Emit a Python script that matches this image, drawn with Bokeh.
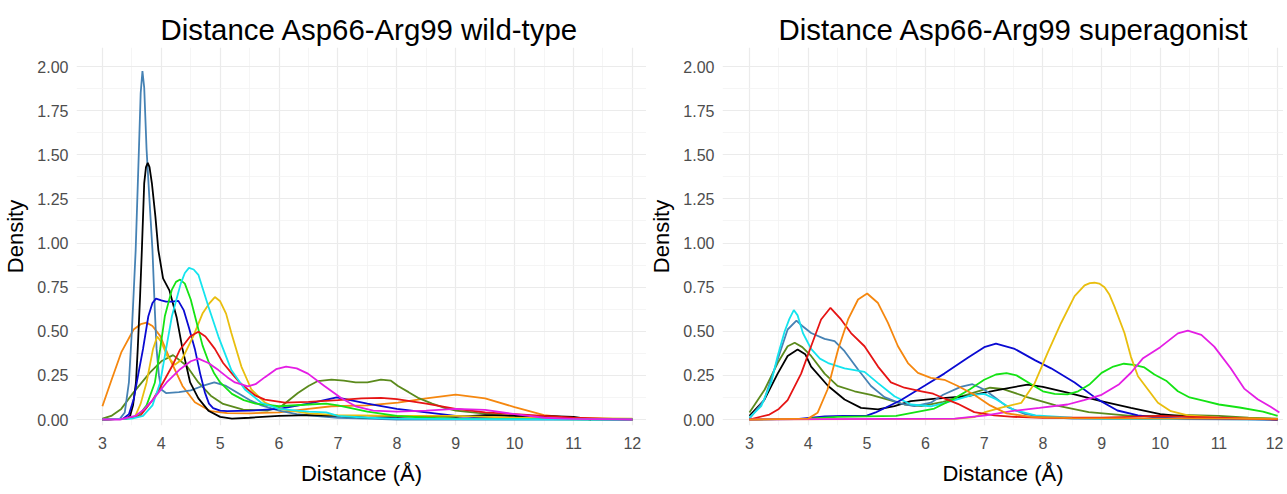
from bokeh.plotting import figure
from bokeh.layouts import row, column
from bokeh.models import Range1d, FixedTicker, PrintfTickFormatter, Spacer
from bokeh.embed import file_html
from bokeh.resources import INLINE

# ---------------- data: wild-type ----------------
wt_steelblue_x = [3.0, 3.3, 3.38, 3.45, 3.5, 3.565, 3.62, 3.65, 3.68, 3.71, 3.75, 3.8, 3.85, 3.89, 3.92, 3.96, 4.0, 4.08, 4.3, 4.5, 4.7, 4.9, 5.1, 5.3, 5.5, 5.7, 6.0, 6.3, 6.6, 7.0, 7.5, 8.0, 12.0]
wt_steelblue_y = [0.0, 0.005, 0.04, 0.21, 0.5, 0.96, 1.53, 1.85, 1.975, 1.88, 1.53, 1.24, 0.96, 0.62, 0.40, 0.25, 0.17, 0.15, 0.155, 0.165, 0.19, 0.21, 0.19, 0.15, 0.11, 0.08, 0.05, 0.03, 0.02, 0.01, 0.005, 0.0, 0.0]

wt_black_x = [3.0, 3.4, 3.47, 3.52, 3.57, 3.6, 3.64, 3.67, 3.71, 3.74, 3.77, 3.8, 3.84, 3.9, 3.95, 4.03, 4.14, 4.26, 4.36, 4.49, 4.63, 4.8, 5.0, 5.2, 5.5, 6.0, 6.5, 7.0, 7.5, 8.0, 8.5, 9.0, 9.5, 10.0, 10.5, 11.0, 11.3]
wt_black_y = [0.0, 0.005, 0.02, 0.08, 0.21, 0.40, 0.7, 0.96, 1.34, 1.43, 1.454, 1.43, 1.34, 1.15, 0.96, 0.80, 0.73, 0.58, 0.40, 0.21, 0.12, 0.05, 0.015, 0.005, 0.01, 0.02, 0.025, 0.02, 0.01, 0.015, 0.02, 0.015, 0.025, 0.02, 0.02, 0.015, 0.0]

wt_blue_x = [3.0, 3.35, 3.45, 3.53, 3.6, 3.69, 3.78, 3.85, 3.91, 4.0, 4.08, 4.18, 4.29, 4.38, 4.47, 4.57, 4.66, 4.74, 4.81, 4.88, 5.0, 5.12, 5.5, 6.0, 6.5, 6.98, 7.5, 8.0, 8.5, 9.0, 9.5, 10.0, 12.0]
wt_blue_y = [0.0, 0.005, 0.03, 0.113, 0.24, 0.40, 0.585, 0.66, 0.685, 0.675, 0.668, 0.668, 0.672, 0.62, 0.52, 0.40, 0.26, 0.154, 0.09, 0.064, 0.05, 0.047, 0.05, 0.06, 0.09, 0.126, 0.09, 0.06, 0.04, 0.02, 0.01, 0.005, 0.0]

wt_green_x = [3.0, 3.4, 3.61, 3.75, 3.89, 3.98, 4.06, 4.18, 4.25, 4.32, 4.4, 4.5, 4.6, 4.7, 4.8, 4.9, 5.0, 5.2, 5.4, 5.6, 6.0, 6.5, 6.8, 7.0, 7.5, 8.0, 8.5, 9.0, 12.0]
wt_green_y = [0.0, 0.005, 0.02, 0.08, 0.208, 0.397, 0.585, 0.736, 0.78, 0.793, 0.77, 0.68, 0.55, 0.42, 0.33, 0.26, 0.21, 0.145, 0.11, 0.09, 0.075, 0.085, 0.09, 0.08, 0.045, 0.02, 0.01, 0.005, 0.0]

wt_cyan_x = [3.0, 3.5, 3.69, 3.85, 3.98, 4.08, 4.18, 4.33, 4.4, 4.47, 4.55, 4.63, 4.8, 4.97, 5.19, 5.42, 5.7, 6.0, 6.5, 6.8, 7.0, 7.5, 8.0, 9.0, 12.0]
wt_cyan_y = [0.0, 0.005, 0.02, 0.08, 0.208, 0.397, 0.585, 0.77, 0.83, 0.859, 0.85, 0.82, 0.64, 0.47, 0.28, 0.17, 0.095, 0.06, 0.045, 0.04, 0.02, 0.01, 0.005, 0.002, 0.0]

wt_gold_x = [3.0, 3.45, 3.56, 3.65, 3.75, 3.86, 3.93, 4.0, 4.1, 4.23, 4.35, 4.54, 4.7, 4.82, 4.91, 5.0, 5.1, 5.19, 5.36, 5.53, 5.76, 6.0, 6.5, 7.0, 8.0, 9.0, 10.0, 12.0]
wt_gold_y = [0.0, 0.005, 0.02, 0.09, 0.21, 0.40, 0.47, 0.44, 0.36, 0.31, 0.34, 0.47, 0.6, 0.66, 0.694, 0.67, 0.6, 0.49, 0.30, 0.17, 0.096, 0.06, 0.035, 0.025, 0.02, 0.02, 0.01, 0.005]

wt_red_x = [3.0, 3.4, 3.64, 3.86, 4.03, 4.18, 4.32, 4.49, 4.63, 4.75, 4.91, 5.05, 5.19, 5.33, 5.47, 5.6, 5.76, 6.1, 6.5, 7.0, 7.4, 7.73, 8.0, 8.5, 9.0, 9.5, 10.0, 10.5, 11.0, 11.5, 12.0]
wt_red_y = [0.0, 0.005, 0.02, 0.113, 0.21, 0.30, 0.397, 0.47, 0.497, 0.47, 0.40, 0.32, 0.264, 0.21, 0.17, 0.135, 0.113, 0.096, 0.10, 0.11, 0.12, 0.123, 0.115, 0.09, 0.06, 0.04, 0.03, 0.02, 0.01, 0.005, 0.0]

wt_orange_x = [3.0, 3.15, 3.32, 3.53, 3.65, 3.75, 3.85, 3.98, 4.15, 4.36, 4.57, 4.84, 5.12, 5.5, 6.0, 6.5, 6.89, 7.5, 8.02, 8.5, 9.0, 9.5, 10.0, 10.5, 11.0, 11.5, 12.0]
wt_orange_y = [0.075, 0.22, 0.38, 0.51, 0.54, 0.549, 0.53, 0.474, 0.34, 0.19, 0.098, 0.047, 0.036, 0.035, 0.04, 0.06, 0.075, 0.08, 0.096, 0.12, 0.141, 0.12, 0.07, 0.025, 0.008, 0.003, 0.0]

wt_magenta_x = [3.0, 3.3, 3.56, 3.7, 3.86, 4.09, 4.32, 4.5, 4.63, 4.8, 4.97, 5.12, 5.25, 5.47, 5.6, 5.76, 5.95, 6.12, 6.3, 6.49, 6.77, 7.06, 7.3, 7.6, 8.0, 8.5, 9.0, 9.5, 10.0, 10.5, 11.0, 12.0]
wt_magenta_y = [0.0, 0.0, 0.02, 0.055, 0.113, 0.21, 0.285, 0.33, 0.345, 0.32, 0.28, 0.24, 0.21, 0.188, 0.2, 0.24, 0.285, 0.30, 0.29, 0.26, 0.19, 0.12, 0.075, 0.05, 0.045, 0.05, 0.06, 0.055, 0.03, 0.01, 0.003, 0.0]

wt_olive_x = [3.0, 3.15, 3.32, 3.53, 3.81, 4.0, 4.2, 4.43, 4.63, 4.84, 5.05, 5.39, 5.8, 6.04, 6.32, 6.5, 6.66, 6.89, 7.1, 7.3, 7.5, 7.73, 7.9, 8.02, 8.2, 8.36, 8.6, 8.81, 9.0, 9.37, 10.0, 10.5, 11.0, 12.0]
wt_olive_y = [0.005, 0.02, 0.06, 0.154, 0.267, 0.33, 0.365, 0.305, 0.21, 0.135, 0.088, 0.056, 0.05, 0.075, 0.15, 0.19, 0.218, 0.226, 0.22, 0.21, 0.21, 0.226, 0.22, 0.19, 0.155, 0.123, 0.09, 0.066, 0.05, 0.038, 0.02, 0.01, 0.005, 0.0]

# ---------------- data: superagonist ----------------
sa_cyan_x = [3.0, 3.2, 3.37, 3.48, 3.6, 3.68, 3.755, 3.82, 3.91, 4.05, 4.2, 4.34, 4.62, 4.96, 5.19, 5.47, 5.75, 6.09, 6.35, 6.6, 6.8, 7.0, 7.2, 7.5, 7.87, 8.5, 9.0, 12.0]
sa_cyan_y = [0.01, 0.076, 0.21, 0.36, 0.5, 0.57, 0.62, 0.59, 0.49, 0.40, 0.345, 0.32, 0.29, 0.27, 0.206, 0.132, 0.085, 0.075, 0.095, 0.12, 0.14, 0.145, 0.115, 0.055, 0.023, 0.01, 0.005, 0.0]

sa_steelblue_x = [3.0, 3.25, 3.48, 3.65, 3.8, 3.9, 4.05, 4.28, 4.45, 4.62, 4.85, 5.07, 5.3, 5.58, 5.81, 6.09, 6.3, 6.6, 6.8, 7.0, 7.2, 7.4, 7.7, 8.0, 8.5, 12.0]
sa_steelblue_y = [0.005, 0.11, 0.34, 0.51, 0.56, 0.53, 0.49, 0.457, 0.444, 0.387, 0.283, 0.19, 0.127, 0.09, 0.076, 0.095, 0.14, 0.185, 0.2, 0.17, 0.12, 0.07, 0.03, 0.015, 0.005, 0.0]

sa_olive_x = [3.0, 3.26, 3.48, 3.65, 3.77, 3.9, 4.05, 4.28, 4.5, 4.79, 5.07, 5.36, 5.64, 5.93, 6.3, 6.7, 7.1, 7.31, 7.73, 8.22, 8.78, 9.5, 10.0, 10.5, 11.0, 11.5, 12.0]
sa_olive_y = [0.04, 0.17, 0.32, 0.415, 0.435, 0.41, 0.36, 0.26, 0.19, 0.16, 0.14, 0.113, 0.085, 0.076, 0.1, 0.14, 0.18, 0.174, 0.127, 0.08, 0.042, 0.02, 0.02, 0.025, 0.02, 0.01, 0.005]

sa_black_x = [3.0, 3.25, 3.48, 3.65, 3.82, 3.95, 4.05, 4.34, 4.62, 4.9, 5.19, 5.47, 5.75, 6.13, 6.72, 7.2, 7.74, 8.0, 8.42, 8.99, 9.5, 10.0, 10.5, 11.0, 12.0]
sa_black_y = [0.02, 0.11, 0.26, 0.36, 0.397, 0.37, 0.30, 0.19, 0.113, 0.066, 0.057, 0.076, 0.104, 0.117, 0.133, 0.165, 0.198, 0.185, 0.152, 0.104, 0.066, 0.03, 0.015, 0.005, 0.0]

sa_red_x = [3.0, 3.34, 3.5, 3.65, 3.88, 4.05, 4.22, 4.38, 4.56, 4.73, 4.96, 5.19, 5.41, 5.64, 5.93, 6.13, 6.35, 6.55, 6.83, 7.17, 7.5, 8.0, 9.0, 9.5, 10.0, 10.5, 11.0, 11.5, 12.0]
sa_red_y = [0.0, 0.028, 0.06, 0.11, 0.26, 0.415, 0.567, 0.633, 0.567, 0.49, 0.415, 0.30, 0.21, 0.18, 0.16, 0.146, 0.115, 0.089, 0.042, 0.023, 0.015, 0.01, 0.01, 0.015, 0.02, 0.015, 0.01, 0.005, 0.0]

sa_orange_x = [3.0, 4.0, 4.16, 4.33, 4.51, 4.68, 4.85, 5.005, 5.19, 5.36, 5.53, 5.7, 5.87, 6.09, 6.32, 6.55, 6.83, 7.1, 7.38, 7.8, 8.5, 12.0]
sa_orange_y = [0.0, 0.005, 0.038, 0.17, 0.397, 0.567, 0.68, 0.714, 0.66, 0.547, 0.415, 0.32, 0.264, 0.236, 0.225, 0.19, 0.14, 0.08, 0.035, 0.015, 0.008, 0.003]

sa_blue_x = [3.0, 3.8, 4.28, 4.6, 5.0, 5.15, 5.57, 5.99, 6.32, 6.72, 7.0, 7.2, 7.52, 7.87, 8.14, 8.54, 8.92, 9.27, 9.62, 9.97, 10.5, 12.0]
sa_blue_y = [0.0, 0.002, 0.017, 0.02, 0.022, 0.04, 0.108, 0.193, 0.26, 0.35, 0.41, 0.43, 0.40, 0.335, 0.29, 0.21, 0.117, 0.051, 0.023, 0.01, 0.005, 0.0]

sa_green_x = [3.0, 4.0, 4.5, 5.5, 6.15, 6.48, 6.75, 7.0, 7.2, 7.38, 7.55, 7.8, 8.0, 8.2, 8.42, 8.6, 8.8, 9.0, 9.2, 9.38, 9.55, 9.73, 9.9, 10.1, 10.3, 10.5, 10.75, 11.0, 11.35, 11.75, 12.0]
sa_green_y = [0.0, 0.005, 0.015, 0.02, 0.062, 0.117, 0.17, 0.225, 0.255, 0.263, 0.25, 0.2, 0.16, 0.145, 0.142, 0.16, 0.2, 0.264, 0.3, 0.316, 0.31, 0.295, 0.255, 0.22, 0.16, 0.125, 0.105, 0.085, 0.068, 0.045, 0.02]

sa_gold_x = [3.0, 6.5, 6.83, 7.0, 7.29, 7.63, 7.86, 8.08, 8.31, 8.54, 8.71, 8.8, 8.88, 8.96, 9.05, 9.13, 9.22, 9.39, 9.5, 9.62, 9.79, 9.96, 10.18, 10.47, 11.0, 12.0]
sa_gold_y = [0.0, 0.003, 0.013, 0.04, 0.067, 0.094, 0.206, 0.377, 0.547, 0.699, 0.76, 0.773, 0.775, 0.77, 0.75, 0.71, 0.64, 0.49, 0.355, 0.245, 0.17, 0.095, 0.047, 0.023, 0.01, 0.003]

sa_magenta_x = [3.0, 6.5, 7.03, 7.52, 7.94, 8.42, 8.7, 9.0, 9.3, 9.5, 9.7, 10.0, 10.3, 10.47, 10.7, 10.92, 11.2, 11.43, 11.66, 11.88, 12.03]
sa_magenta_y = [0.0, 0.005, 0.023, 0.05, 0.066, 0.085, 0.11, 0.14, 0.2, 0.265, 0.345, 0.41, 0.488, 0.503, 0.48, 0.413, 0.29, 0.175, 0.115, 0.072, 0.04]

x_ticks = [3, 4, 5, 6, 7, 8, 9, 10, 11, 12]
y_ticks = [0.0, 0.25, 0.5, 0.75, 1.0, 1.25, 1.5, 1.75, 2.0]

COL = {
    "steelblue": "#4682B4", "black": "#000000", "blue": "#0A0AD2",
    "green": "#14E314", "cyan": "#14E4EE", "gold": "#E9BE0E",
    "red": "#E61414", "orange": "#F5870F", "magenta": "#E41EE4",
    "olive": "#5B8A1C",
}

FONT = "Liberation Sans"


def make_fig(title, frame_w, x0, x1, title_offset):
    p = figure(frame_width=frame_w, frame_height=378,
               x_range=Range1d(x0, x1), y_range=Range1d(-0.034, 2.108),
               output_backend="svg", toolbar_location=None,
               min_border_left=70, min_border_right=0, min_border_top=0,
               min_border_bottom=0)
    p.title.text = title
    p.title.text_font = FONT
    p.title.text_font_size = "29.4px"
    p.title.text_font_style = "normal"
    p.title.align = "left"
    p.title.text_color = "#000000"
    p.title.offset = title_offset
    p.title.standoff = 4
    p.outline_line_color = None
    p.background_fill_color = "white"
    p.border_fill_color = "white"

    p.xaxis.ticker = FixedTicker(ticks=x_ticks,
                                 minor_ticks=[t + 0.5 for t in x_ticks[:-1]] + [2.5])
    p.yaxis.ticker = FixedTicker(ticks=y_ticks,
                                 minor_ticks=[t + 0.125 for t in y_ticks[:-1]])
    p.yaxis.formatter = PrintfTickFormatter(format="%.2f")
    for ax in (p.xaxis, p.yaxis):
        ax.axis_line_color = None
        ax.major_tick_line_color = None
        ax.minor_tick_line_color = None
        ax.major_tick_out = 0
        ax.major_tick_in = 0
        ax.major_label_text_font = FONT
        ax.major_label_text_font_size = "16px"
        ax.major_label_text_color = "#4D4D4D"
        ax.axis_label_text_font = FONT
        ax.axis_label_text_font_size = "22px"
        ax.axis_label_text_font_style = "normal"
        ax.axis_label_text_color = "#000000"
    p.xaxis.axis_label = "Distance (Å)"
    p.yaxis.axis_label = "Density"
    p.xaxis.major_label_standoff = 7
    p.xaxis.axis_label_standoff = 9
    p.yaxis.major_label_standoff = 4
    p.yaxis.axis_label_standoff = 6

    for g in (p.xgrid, p.ygrid):
        g.grid_line_color = "#EBEBEB"
        g.grid_line_width = 1.2
        g.minor_grid_line_color = "#F2F2F2"
        g.minor_grid_line_width = 0.8
    return p


LW = 1.8

p1 = make_fig("Distance Asp66-Arg99 wild-type", 570, 2.56, 12.24, 84)
p1.line(wt_orange_x, wt_orange_y, line_color=COL["orange"], line_width=LW)
p1.line(wt_olive_x, wt_olive_y, line_color=COL["olive"], line_width=LW)
p1.line(wt_steelblue_x, wt_steelblue_y, line_color=COL["steelblue"], line_width=LW)
p1.line(wt_black_x, wt_black_y, line_color=COL["black"], line_width=LW)
p1.line(wt_blue_x, wt_blue_y, line_color=COL["blue"], line_width=LW)
p1.line(wt_gold_x, wt_gold_y, line_color=COL["gold"], line_width=LW)
p1.line(wt_green_x, wt_green_y, line_color=COL["green"], line_width=LW)
p1.line(wt_red_x, wt_red_y, line_color=COL["red"], line_width=LW)
p1.line(wt_cyan_x, wt_cyan_y, line_color=COL["cyan"], line_width=LW)
p1.line(wt_magenta_x, wt_magenta_y, line_color=COL["magenta"], line_width=LW)

p2 = make_fig("Distance Asp66-Arg99 superagonist", 561, 2.54, 12.10, 56)
p2.line(sa_olive_x, sa_olive_y, line_color=COL["olive"], line_width=LW)
p2.line(sa_black_x, sa_black_y, line_color=COL["black"], line_width=LW)
p2.line(sa_steelblue_x, sa_steelblue_y, line_color=COL["steelblue"], line_width=LW)
p2.line(sa_cyan_x, sa_cyan_y, line_color=COL["cyan"], line_width=LW)
p2.line(sa_blue_x, sa_blue_y, line_color=COL["blue"], line_width=LW)
p2.line(sa_green_x, sa_green_y, line_color=COL["green"], line_width=LW)
p2.line(sa_gold_x, sa_gold_y, line_color=COL["gold"], line_width=LW)
p2.line(sa_red_x, sa_red_y, line_color=COL["red"], line_width=LW)
p2.line(sa_magenta_x, sa_magenta_y, line_color=COL["magenta"], line_width=LW)
p2.line(sa_orange_x, sa_orange_y, line_color=COL["orange"], line_width=LW)

layout = column(Spacer(width=1271, height=8), row(p1, p2))
open("out.html", "w").write(file_html(layout, INLINE))
